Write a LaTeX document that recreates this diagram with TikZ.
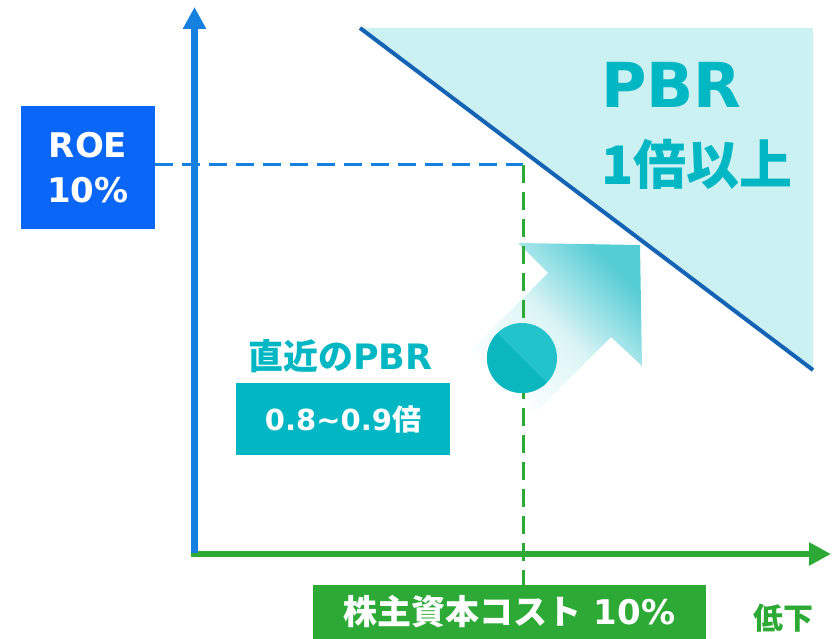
\documentclass[tikz,border=0pt]{standalone}
\usepackage{fontspec}
\setmainfont{DejaVu Sans}
\newfontfamily\jpfont{Noto Sans CJK JP}
\usetikzlibrary{arrows.meta}
\definecolor{roeblue}{HTML}{0A66F7}
\definecolor{axisblue}{HTML}{1580E0}
\definecolor{lineblue}{HTML}{1563B5}
\definecolor{axisgreen}{HTML}{2DAA36}
\definecolor{pbrcyan}{HTML}{00B7C3}
\definecolor{zonecyan}{HTML}{CCF1F3}
\definecolor{arrowcyan}{HTML}{55CDD5}
\definecolor{dotlight}{HTML}{22C3CB}
\definecolor{dotdark}{HTML}{0BB7BF}

\begin{document}
\begin{tikzpicture}[x=1pt,y=-1pt,
  box/.style={inner sep=0pt,text=white,font=\bfseries},
  axisline/.style={line width=6.5pt,-{Triangle[width=22pt,length=22pt]}},
  guide/.style={line width=3pt,dash pattern=on 18pt off 9pt}]
  \useasboundingbox (0,0) rectangle (836,639);
  % region above the PBR = 1 line
  \coordinate (L1) at (360,28);
  \coordinate (L2) at (813,370);
  \fill[zonecyan] (L1) -- (813,28) -- (L2) -- cycle;
  % shaded arrow
  \shade[bottom color=white,top color=arrowcyan,middle color=arrowcyan!20,shading angle=-45]
    (534,414) -- (611,337) -- (642,366) -- (640,245) -- (518,243)
    -- (548,273) -- (470,351) -- cycle;
  % labels in boxes
  \node[box,fill=roeblue,minimum width=134pt,minimum height=123pt,
    align=center,font=\bfseries\fontsize{34}{45}\selectfont]
    (roe) at (88,167.5) {ROE\\10\%};
  \node[box,fill=axisgreen,minimum width=393pt,minimum height=54pt,
    font=\bfseries\fontsize{34}{40}\selectfont]
    (cost) at (509.5,612) {{\jpfont 株主資本コスト} 10\%};
  \node[box,fill=pbrcyan,minimum width=214pt,minimum height=72pt,
    font=\bfseries\fontsize{29}{34}\selectfont]
    (now) at (343,419) {0.8\textasciitilde 0.9{\jpfont 倍}};
  % guides
  \coordinate (P) at (523,165);
  \draw[guide,axisblue] (roe.east |- P) -- (P);
  \draw[guide,axisgreen] (P) -- (cost.north -| P);
  % axes
  \coordinate (O) at (194.5,554);
  \draw[axisline,axisgreen,line width=6pt] (191,554) -- (831,554);
  \draw[axisline,axisblue] (194.5,553) -- (194.5,7);
  % PBR = 1 line
  \draw[lineblue,line width=4pt] (L1) -- (L2);
  % current position
  \node[circle,fill=dotlight,minimum size=70pt,inner sep=0pt,
    path picture={\fill[dotdark] (path picture bounding box.north west)
      -- (path picture bounding box.south east)
      -- (path picture bounding box.south west) -- cycle;}]
    (dot) at (522,358) {};
  % texts
  \node[text=pbrcyan,font=\bfseries\fontsize{62}{70}\selectfont,anchor=base west,inner sep=0pt]
    (pbr) at (601,108) {PBR};
  \node[text=pbrcyan,font=\bfseries\fontsize{53}{60}\selectfont,anchor=base west,inner sep=0pt]
    (over) at (601,185) {\jpfont 1倍以上};
  \node[text=pbrcyan,font=\bfseries\fontsize{35}{40}\selectfont,anchor=base west,inner sep=0pt]
    (recent) at (248,369) {{\jpfont 直近の}PBR};
  \node[text=axisgreen,font=\bfseries\fontsize{30}{34}\selectfont,inner sep=0pt]
    (down) at (783,618) {\jpfont 低下};
\end{tikzpicture}
\end{document}
